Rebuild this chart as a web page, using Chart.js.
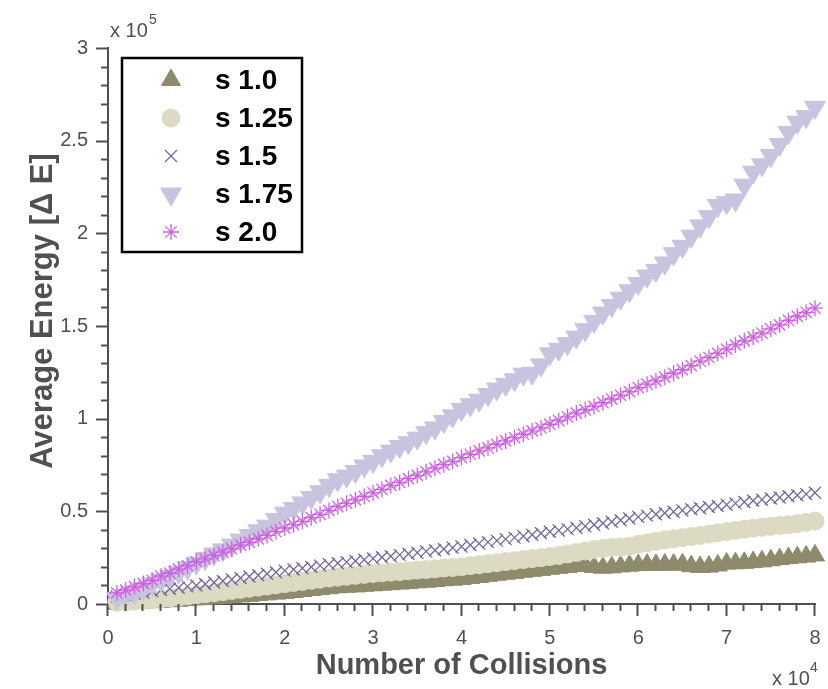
<!DOCTYPE html>
<html>
<head>
<meta charset="utf-8">
<title>Average Energy vs Number of Collisions</title>
<script src="https://cdn.jsdelivr.net/npm/chart.js@4.4.1/dist/chart.umd.min.js"></script>
<style>
  html, body { margin: 0; padding: 0; background: #fff; }
  #wrap { width: 828px; height: 689px; }
</style>
</head>
<body>
<div id="wrap"><canvas id="energy" width="828" height="689"></canvas></div>
<script>
// collisions, in units of 10^4
const collisions = [
  0.1, 0.2, 0.3, 0.4, 0.5, 0.6, 0.7, 0.8, 0.9, 1.0,
  1.1, 1.2, 1.3, 1.4, 1.5, 1.6, 1.7, 1.8, 1.9, 2.0,
  2.1, 2.2, 2.3, 2.4, 2.5, 2.6, 2.7, 2.8, 2.9, 3.0,
  3.1, 3.2, 3.3, 3.4, 3.5, 3.6, 3.7, 3.8, 3.9, 4.0,
  4.1, 4.2, 4.3, 4.4, 4.5, 4.6, 4.7, 4.8, 4.9, 5.0,
  5.1, 5.2, 5.3, 5.4, 5.5, 5.6, 5.7, 5.8, 5.9, 6.0,
  6.1, 6.2, 6.3, 6.4, 6.5, 6.6, 6.7, 6.8, 6.9, 7.0,
  7.1, 7.2, 7.3, 7.4, 7.5, 7.6, 7.7, 7.8, 7.9, 8.0
];

// average energy, in units of 10^5
const s100 = [
  0.002, 0.004, 0.006, 0.008, 0.010, 0.012, 0.015, 0.018, 0.021, 0.025,
  0.028, 0.031, 0.034, 0.037, 0.041, 0.044, 0.048, 0.052, 0.056, 0.060,
  0.065, 0.070, 0.075, 0.080, 0.085, 0.090, 0.093, 0.095, 0.098, 0.101,
  0.104, 0.107, 0.110, 0.113, 0.117, 0.120, 0.124, 0.128, 0.131, 0.135,
  0.140, 0.146, 0.152, 0.158, 0.163, 0.168, 0.174, 0.179, 0.184, 0.190,
  0.195, 0.200, 0.205, 0.208, 0.200, 0.196, 0.198, 0.203, 0.207, 0.210,
  0.212, 0.211, 0.213, 0.212, 0.214, 0.204, 0.200, 0.202, 0.208, 0.218,
  0.220, 0.222, 0.226, 0.230, 0.236, 0.242, 0.248, 0.252, 0.256, 0.262
];
const s125 = [
  0.010, 0.012, 0.015, 0.020, 0.024, 0.028, 0.032, 0.038, 0.044, 0.050,
  0.055, 0.061, 0.067, 0.073, 0.079, 0.085, 0.091, 0.097, 0.103, 0.110,
  0.116, 0.122, 0.128, 0.134, 0.140, 0.145, 0.150, 0.155, 0.160, 0.165,
  0.168, 0.172, 0.175, 0.179, 0.183, 0.186, 0.190, 0.194, 0.197, 0.201,
  0.207, 0.212, 0.218, 0.223, 0.229, 0.234, 0.240, 0.245, 0.250, 0.256,
  0.262, 0.270, 0.278, 0.286, 0.294, 0.300, 0.305, 0.306, 0.312, 0.322,
  0.330, 0.338, 0.346, 0.352, 0.358, 0.364, 0.370, 0.377, 0.384, 0.391,
  0.397, 0.403, 0.409, 0.414, 0.419, 0.424, 0.428, 0.434, 0.440, 0.447
];
const s150 = [
  0.040, 0.048, 0.055, 0.062, 0.070, 0.076, 0.082, 0.088, 0.095, 0.100,
  0.108, 0.116, 0.124, 0.132, 0.140, 0.148, 0.155, 0.163, 0.171, 0.180,
  0.186, 0.193, 0.200, 0.207, 0.214, 0.220, 0.226, 0.232, 0.239, 0.245,
  0.252, 0.258, 0.265, 0.271, 0.277, 0.284, 0.290, 0.297, 0.304, 0.310,
  0.318, 0.326, 0.334, 0.342, 0.350, 0.358, 0.366, 0.374, 0.382, 0.390,
  0.397, 0.404, 0.411, 0.420, 0.428, 0.436, 0.444, 0.452, 0.461, 0.470,
  0.477, 0.484, 0.491, 0.498, 0.505, 0.511, 0.517, 0.523, 0.529, 0.536,
  0.543, 0.550, 0.557, 0.563, 0.569, 0.575, 0.581, 0.587, 0.593, 0.600
];
const s175 = [
  0.030, 0.045, 0.060, 0.085, 0.110, 0.130, 0.150, 0.172, 0.195, 0.220,
  0.245, 0.270, 0.292, 0.318, 0.345, 0.370, 0.395, 0.420, 0.455, 0.490,
  0.515, 0.545, 0.575, 0.605, 0.640, 0.670, 0.690, 0.715, 0.745, 0.770,
  0.800, 0.825, 0.850, 0.870, 0.895, 0.925, 0.950, 0.985, 1.015, 1.050,
  1.075, 1.100, 1.130, 1.160, 1.185, 1.210, 1.240, 1.245, 1.290, 1.350,
  1.375, 1.405, 1.440, 1.480, 1.525, 1.570, 1.610, 1.650, 1.690, 1.730,
  1.770, 1.800, 1.840, 1.890, 1.930, 1.985, 2.040, 2.090, 2.150, 2.165,
  2.180, 2.260, 2.330, 2.370, 2.420, 2.480, 2.545, 2.600, 2.630, 2.680
];
const s200 = [
  0.060, 0.075, 0.094, 0.110, 0.128, 0.150, 0.166, 0.188, 0.207, 0.228,
  0.244, 0.262, 0.280, 0.297, 0.318, 0.333, 0.352, 0.370, 0.390, 0.410,
  0.428, 0.446, 0.466, 0.484, 0.505, 0.526, 0.543, 0.562, 0.580, 0.600,
  0.618, 0.640, 0.656, 0.676, 0.694, 0.713, 0.733, 0.752, 0.770, 0.790,
  0.808, 0.826, 0.842, 0.862, 0.880, 0.898, 0.916, 0.934, 0.950, 0.970,
  0.990, 1.010, 1.030, 1.048, 1.066, 1.086, 1.106, 1.126, 1.146, 1.168,
  1.186, 1.204, 1.224, 1.245, 1.264, 1.286, 1.310, 1.330, 1.352, 1.375,
  1.398, 1.420, 1.440, 1.462, 1.484, 1.506, 1.530, 1.552, 1.574, 1.596
];

const seriesNames = ['s 1.0', 's 1.25', 's 1.5', 's 1.75', 's 2.0'];
const xTicks = [0, 1, 2, 3, 4, 5, 6, 7, 8];
const yTicks = [0, 0.5, 1, 1.5, 2, 2.5, 3];

const AXIS_GREY = '#505050';
const FONT = '"Liberation Sans", Arial, Helvetica, sans-serif';

// marker look for each series, in drawing order
const markers = [
  { pointStyle: 'triangle', radius: 11, rotation: 0, color: '#8d8b6c', fill: true, borderWidth: 1 },
  { pointStyle: 'circle', radius: 9, rotation: 0, color: '#dcdac3', fill: true, borderWidth: 1 },
  { pointStyle: 'crossRot', radius: 8.5, rotation: 0, color: '#75699e', fill: false, borderWidth: 1.3 },
  { pointStyle: 'triangle', radius: 12, rotation: 180, color: '#c8c3df', fill: true, borderWidth: 1 },
  { pointStyle: 'star', radius: 8, rotation: 0, color: '#cd62e0', fill: false, borderWidth: 1.3 }
];

const toPoints = (vals) => vals.map((v, i) => ({ x: collisions[i], y: v }));

const datasets = [s100, s125, s150, s175, s200].map((vals, i) => ({
  label: seriesNames[i],
  data: toPoints(vals),
  showLine: false,
  clip: false,
  order: 10 - i,          // later series painted on top
  pointStyle: markers[i].pointStyle,
  pointRadius: markers[i].radius,
  pointRotation: markers[i].rotation,
  pointBackgroundColor: markers[i].fill ? markers[i].color : 'rgba(0,0,0,0)',
  pointBorderColor: markers[i].color,
  pointBorderWidth: markers[i].borderWidth
}));

// tick marks, axis titles, exponents and the boxed legend
const decor = {
  id: 'decor',
  afterDraw(chart) {
    const { ctx, chartArea: a, scales: { x, y } } = chart;
    ctx.save();

    // minor/major ticks pointing outwards
    ctx.strokeStyle = AXIS_GREY;
    ctx.lineWidth = 2;
    for (let i = 0; i <= 30; i++) {
      const py = Math.round(y.getPixelForValue(i / 10)) + 0.5;
      const len = i % 5 === 0 ? 12 : 7;
      ctx.beginPath();
      ctx.moveTo(a.left, py);
      ctx.lineTo(a.left - len, py);
      ctx.stroke();
    }
    for (let i = 0; i <= 40; i++) {
      const px = Math.round(x.getPixelForValue(i / 5)) - 0.5;
      const len = i % 5 === 0 ? 12 : 7;
      ctx.beginPath();
      ctx.moveTo(px, a.bottom);
      ctx.lineTo(px, a.bottom + len);
      ctx.stroke();
    }

    // axis titles
    ctx.fillStyle = AXIS_GREY;
    ctx.font = 'bold 29px ' + FONT;
    ctx.textAlign = 'center';
    ctx.textBaseline = 'alphabetic';
    ctx.fillText('Number of Collisions', (a.left + a.right) / 2, 674);

    ctx.save();
    ctx.translate(52, 311);
    ctx.rotate(-Math.PI / 2);
    ctx.font = 'bold 31px ' + FONT;
    ctx.fillText('Average Energy [\u0394 E]', 0, 0);
    ctx.restore();

    // exponents
    ctx.textAlign = 'left';
    ctx.font = '20px ' + FONT;
    ctx.fillText('x 10', 110, 37);
    ctx.fillText('x 10', 772, 685);
    ctx.font = '14px ' + FONT;
    ctx.fillText('5', 149, 24);
    ctx.fillText('4', 810, 672);

    // legend box
    const box = { l: 122, t: 58, w: 180, h: 194 };
    ctx.fillStyle = '#fff';
    ctx.fillRect(box.l, box.t, box.w, box.h);
    ctx.strokeStyle = '#000';
    ctx.lineWidth = 2.5;
    ctx.strokeRect(box.l, box.t, box.w, box.h);

    ctx.font = 'bold 28px ' + FONT;
    ctx.textBaseline = 'middle';
    seriesNames.forEach((name, i) => {
      const cy = 80 + i * 38;
      const m = markers[i];
      ctx.fillStyle = m.fill ? m.color : 'rgba(0,0,0,0)';
      ctx.strokeStyle = m.color;
      ctx.lineWidth = m.borderWidth;
      Chart.helpers.drawPoint(ctx, {
        pointStyle: m.pointStyle, radius: m.radius, rotation: m.rotation, borderWidth: m.borderWidth
      }, 171, cy);
      ctx.fillStyle = '#000';
      ctx.fillText(name, 215, cy + 1);
    });

    ctx.restore();
  }
};

new Chart(document.getElementById('energy'), {
  type: 'scatter',
  data: { datasets },
  options: {
    responsive: false,
    animation: false,
    events: [],
    layout: { padding: { left: 0, right: 2, top: 48, bottom: 0 } },
    plugins: { legend: { display: false }, tooltip: { enabled: false } },
    scales: {
      x: {
        type: 'linear',
        min: 0,
        max: 8,
        afterFit: (s) => { s.height = 85; s.paddingLeft = 0; s.paddingRight = 0; },
        afterBuildTicks: (s) => { s.ticks = xTicks.map(v => ({ value: v })); },
        grid: { display: false },
        border: { display: true, color: AXIS_GREY, width: 2 },
        ticks: { color: AXIS_GREY, padding: 14, font: { family: FONT, size: 20 }, callback: (v) => String(v) }
      },
      y: {
        type: 'linear',
        min: 0,
        max: 3,
        afterFit: (s) => { s.width = 108; s.paddingTop = 0; s.paddingBottom = 0; },
        afterBuildTicks: (s) => { s.ticks = yTicks.map(v => ({ value: v })); },
        grid: { display: false },
        border: { display: true, color: AXIS_GREY, width: 2 },
        ticks: { color: AXIS_GREY, padding: 12, font: { family: FONT, size: 20 }, callback: (v) => String(v) }
      }
    }
  },
  plugins: [decor]
});
</script>
</body>
</html>
